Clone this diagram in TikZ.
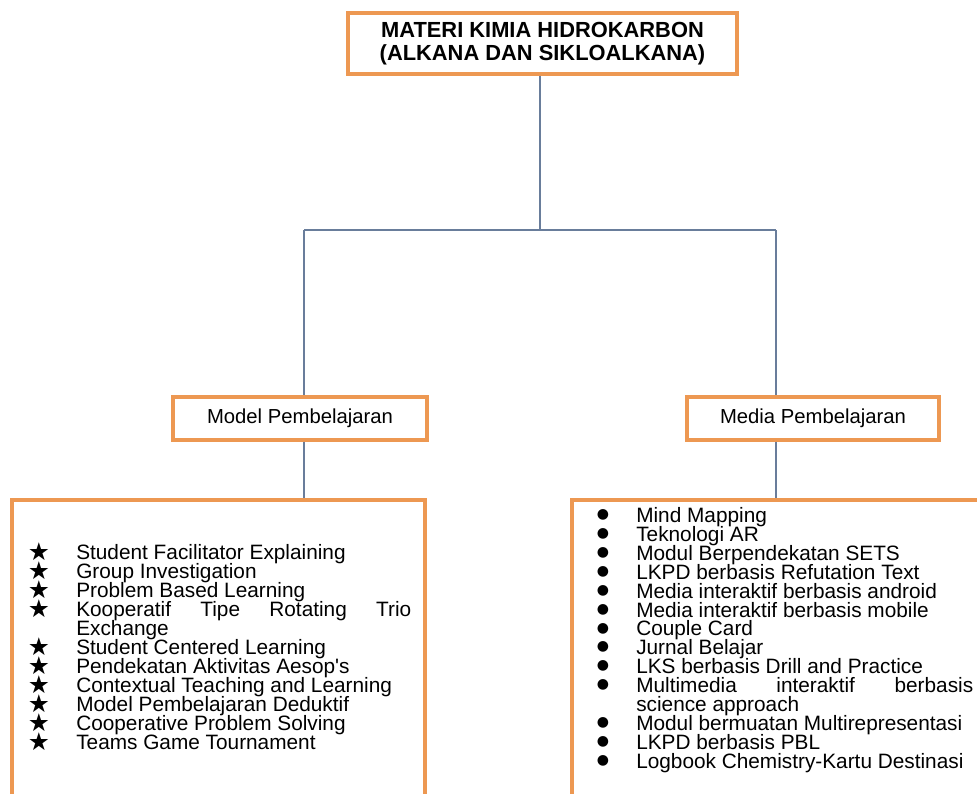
\documentclass[tikz,border=0pt]{standalone}
\usepackage{fontspec}
\setmainfont{Liberation Sans}
\newfontfamily\symfont{DejaVu Sans}
\definecolor{boxorange}{RGB}{237,152,82}
\definecolor{connblue}{RGB}{105,125,155}
\begin{document}
\begin{tikzpicture}[x=0.75pt,y=-0.75pt,
  obox/.style={draw=boxorange, line width=2.4pt, fill=white, inner sep=0pt},
  conn/.style={draw=connblue, line width=1.1pt},
  item/.style={anchor=base west, inner sep=0pt, font=\fontsize{15.6}{15.6}\selectfont},
  staritem/.style={anchor=center, inner sep=0pt, font=\symfont\fontsize{18.5}{18.5}\selectfont},
  dotitem/.style={anchor=center, inner sep=0pt, font=\symfont\fontsize{10.5}{10.5}\selectfont}]
\useasboundingbox (0,0) rectangle (977,793);
\clip (0,0) rectangle (977,793);

% boxes
\node[obox, minimum width=291.75pt, minimum height=45.75pt, align=center,
      font=\bfseries\fontsize{16.4}{17.25}\selectfont] (T) at (542.5,43.5)
      {MATERI KIMIA HIDROKARBON\\(ALKANA DAN SIKLOALKANA)};
\node[obox, minimum width=190.5pt, minimum height=32.25pt,
      font=\fontsize{15.2}{15.2}\selectfont] (M) at (300,418.5) {Model Pembelajaran};
\node[obox, minimum width=189pt, minimum height=32.25pt,
      font=\fontsize{15.2}{15.2}\selectfont] (D) at (813,418.5) {Media Pembelajaran};
\node[obox, minimum width=309.75pt, minimum height=247.5pt] (L) at (218.5,665) {};
\node[obox, minimum width=328.5pt, minimum height=247.5pt] (R) at (791,665) {};

% connectors
\coordinate (hub) at (540,230);
\coordinate (jl) at (304,230);
\coordinate (jr) at (776,230);
\draw[conn] (T.south -| hub) -- (hub);
\draw[conn] (jl) -- (jr);
\draw[conn] (jl) -- (jl |- M.north);
\draw[conn] (jr) -- (jr |- D.north);
\draw[conn] (M.south -| jl) -- (jl |- L.north);
\draw[conn] (D.south -| jr) -- (jr |- R.north);

% left list
\foreach \t [count=\i from 0] in {
  Student Facilitator Explaining,
  Group Investigation,
  Problem Based Learning,
  {\makebox[251.25pt][s]{Kooperatif\hfill Tipe\hfill Rotating\hfill Trio}},
  Exchange,
  Student Centered Learning,
  Pendekatan Aktivitas Aesop\textquotesingle s,
  Contextual Teaching and Learning,
  Model Pembelajaran Deduktif,
  Cooperative Problem Solving,
  Teams Game Tournament}{
  \node[item] (l\i) at (76,559.5+19*\i) {\t};
}
\foreach \i in {0,1,2,3,5,6,7,8,9,10}{
  \node[staritem] (s\i) at (39,552+19*\i) {★};
}

% right list
\foreach \t [count=\i from 0] in {
  Mind Mapping,
  Teknologi AR,
  Modul Berpendekatan SETS,
  LKPD berbasis Refutation Text,
  Media interaktif berbasis android,
  Media interaktif berbasis mobile,
  Couple Card,
  Jurnal Belajar,
  LKS berbasis Drill and Practice,
  {\makebox[252.75pt][s]{Multimedia\hfill interaktif\hfill berbasis}},
  science approach,
  Modul bermuatan Multirepresentasi,
  LKPD berbasis PBL,
  Logbook Chemistry-Kartu Destinasi}{
  \node[item] (r\i) at (636,522.5+18.9*\i) {\t};
}
\foreach \i in {0,1,2,3,4,5,6,7,8,9,11,12,13}{
  \node[dotitem] (b\i) at (603,515+18.9*\i) {●};
}
\end{tikzpicture}
\end{document}
